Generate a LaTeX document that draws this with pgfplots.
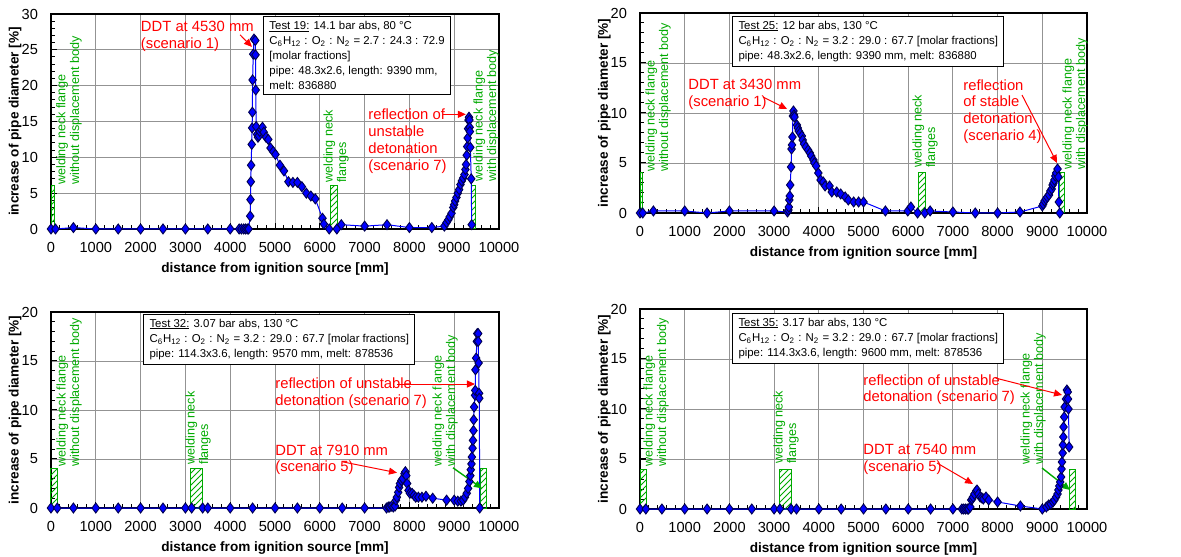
\documentclass[border=0pt]{standalone}
\usepackage{fontspec}
\setmainfont{Liberation Sans}
\usepackage{pgfplots}
\pgfplotsset{compat=1.18}
\usetikzlibrary{patterns,arrows.meta}
\definecolor{grn}{RGB}{0,170,0}
\definecolor{navy}{RGB}{0,0,80}
\newcommand{\ticksize}{\fontsize{7.3}{8}\selectfont}
\newcommand{\labsize}{\fontsize{6.8}{8}\selectfont\bfseries}
\newcommand{\boxfont}{\fontsize{5.7}{7.4}\selectfont}
\newcommand{\redfont}{\fontsize{7.4}{8.4}\selectfont}
\newcommand{\grnfont}{\fontsize{6.3}{6.8}\selectfont}
\newcommand{\ul}[1]{\setbox0\hbox{#1}\rlap{\rule[-0.7pt]{\wd0}{0.35pt}}#1}
\tikzset{
  grntext/.style={grn, font=\grnfont, rotate=90, align=left, anchor=north west, inner sep=0pt},
  redtext/.style={red, font=\redfont, align=left, anchor=north west, inner sep=0pt},
  redarrow/.style={red, line width=0.5pt, -{Triangle[length=4pt,width=3.5pt]}},
  infobox/.style={draw=black, fill=white, line width=0.5pt, align=left, anchor=north west,
    font=\boxfont, inner xsep=3pt, inner ysep=2.5pt},
}
\pgfplotsset{
  panel/.style={
    scale only axis, anchor=south west, clip=false,
    xmin=0, xmax=10000, ymin=0,
    xtick={0,1000,...,10000}, minor x tick num=4, minor y tick num=4,
    grid=major, major grid style={gray!85, line width=0.45pt},
    tick pos=left, tick align=inside, major tick length=3pt, minor tick length=2pt,
    axis line style={line width=0.7pt},
    every tick/.style={black, line width=0.5pt},
    ticklabel style={font=\ticksize},
    scaled x ticks=false,
    /pgf/number format/1000 sep={},
    /pgf/number format/assume math mode=true,
    xlabel={distance from ignition source [mm]},
    ylabel={increase of pipe diameter [\%]},
    every axis x label/.style={at={(axis description cs:0.5,0)}, anchor=center, yshift=-20pt, font=\labsize},
    every axis y label/.style={at={(axis description cs:-0.08,0.5)}, anchor=center, rotate=90, font=\labsize},
    xticklabel style={yshift=-3pt}, yticklabel style={xshift=-3pt},
  },
  dat/.style={blue, line width=0.5pt, mark=diamond*, mark size=2.5pt,
    mark options={fill=blue, draw=navy, line width=0.45pt, solid}},
  flange/.style={draw=grn, line width=0.5pt, pattern=north east lines, pattern color=grn},
}
\begin{document}
\begin{tikzpicture}
\path[use as bounding box] (0,0) rectangle (590.5pt,278pt);

% ---------------- Test 19 (top left)
\begin{axis}[panel, at={(25.5pt,163.5pt)}, width=224pt, height=107.5pt, ymax=30, ytick={0,5,...,30}]
\addplot[flange] coordinates {(15,0) (15,6) (67,6) (67,0)} \closedcycle;
\addplot[flange] coordinates {(6230,0) (6230,6) (6390,6) (6390,0)} \closedcycle;
\addplot[flange] coordinates {(9385,0) (9385,6) (9480,6) (9480,0)} \closedcycle;
\addplot[dat] coordinates {
(0,0) (100,0) (500,0.2) (1000,0) (1500,0) (2000,0) (2500,0) (3000,0) (3500,0) (4000,0)
(4200,0) (4250,0) (4300,0) (4340,0) (4380,0) (4410,0)
(4447,1.8) (4453,4.1) (4460,6.6) (4467,8.9) (4480,11.8) (4490,14.1) (4495,16.3) (4500,20.8)
(4515,24.4) (4530,26.5) (4560,26.3) (4565,24.3) (4570,19.4) (4580,14.3) (4600,13.2)
(4620,12.8) (4640,13.0) (4660,13.6) (4690,13.9) (4720,14.2) (4750,13.5) (4800,12.8)
(4850,12.5) (4900,11.3) (4960,10.8) (5010,10.4) (5110,8.9) (5200,8.1) (5300,6.6)
(5400,6.5) (5500,6.5) (5600,5.9) (5700,5.0) (5800,4.6) (5900,4.2) (6060,1.5) (6090,0.7)
(6210,0) (6380,0) (6480,0.6) (7000,0.4) (7500,0.6) (8000,0.2) (8500,0.2)
(8780,0.4) (8830,0.9) (8870,1.3) (8900,1.7) (8940,2.2) (8980,3.0) (9000,3.4) (9020,3.9)
(9050,4.4) (9080,5.0) (9110,5.5) (9140,6.2) (9170,6.7) (9200,7.1) (9230,7.6) (9250,8.3)
(9265,9.0) (9280,10.3) (9290,11.5) (9300,12.7) (9310,14.0) (9320,15.2) (9330,15.6)
(9340,15.2) (9345,14.2) (9350,13.6) (9360,11.4) (9380,7.0) (9390,0.6)
};
\node[grntext] at (axis cs:110,6.1) {welding neck flange\\without displacement body};
\node[grntext] at (axis cs:6071,6.4) {welding neck\\flanges};
\node[grntext] at (axis cs:9420,6.6) {welding neck flange\\with displacement body};
\node[redtext] at (axis cs:2000,29.0) {DDT at 4530 mm\\(scenario 1)};
\draw[redarrow] (axis cs:4219,27.1) -- (axis cs:4487,25.4);
\node[redtext] at (axis cs:7076,16.8) {reflection of\\unstable\\detonation\\(scenario 7)};
\draw[redarrow] (axis cs:8760,16.0) -- (axis cs:9260,16.0);
\node[infobox] at (axis cs:4732,29.7) {\ul{Test 19:} 14.1 bar abs, 80 °C\\
C\textsubscript{6}H\textsubscript{12} : O\textsubscript{2} : N\textsubscript{2} = 2.7 : 24.3 : 72.9\\
{[}molar fractions{]}\\
pipe: 48.3x2.6, length: 9390 mm,\\
melt: 836880};
\end{axis}

% ---------------- Test 25 (top right)
\begin{axis}[panel, at={(320pt,171.5pt)}, width=223.5pt, height=100pt, ymax=20, ytick={0,5,...,20}]
\addplot[flange] coordinates {(0,0) (0,4) (60,4) (60,0)} \closedcycle;
\addplot[flange] coordinates {(6231,0) (6231,4) (6380,4) (6380,0)} \closedcycle;
\addplot[flange] coordinates {(9388,0) (9388,4) (9493,4) (9493,0)} \closedcycle;
\addplot[dat] coordinates {
(0,0) (60,0) (300,0.2) (1000,0.2) (1500,0) (2000,0.2) (3000,0.2) (3300,0.1) (3320,0.3)
(3330,0.6) (3340,1.3) (3350,1.7) (3360,2.8) (3380,4.6) (3390,6.4) (3400,6.8) (3410,7.6)
(3420,9.7) (3433,10.2) (3445,9.8) (3455,9.6) (3510,8.8) (3530,8.5) (3550,8.2) (3580,8.0)
(3620,7.7) (3640,7.3) (3670,6.9) (3710,6.6) (3760,6.3) (3800,6.0) (3830,5.7) (3880,5.3)
(3900,5.0) (3940,4.7) (3990,4.0) (4040,3.3) (4100,3.1) (4140,2.7) (4240,2.7) (4290,2.1)
(4400,2.1) (4490,1.9) (4590,1.6) (4660,1.3) (4780,1.1) (4890,1.1) (5000,1.1) (5490,0.2)
(5990,0.2) (6060,0.6) (6210,0) (6370,0) (6490,0.2) (7000,0.1) (7500,0) (8000,0) (8500,0.1)
(9000,0.7) (9020,0.9) (9050,1.2) (9080,1.4) (9110,1.6) (9150,1.8) (9180,2.2) (9210,2.4)
(9230,2.8) (9250,3.0) (9270,3.3) (9290,3.7) (9310,4.0) (9340,4.4) (9360,3.6) (9370,1.1)
(9390,0)
};
\node[grntext] at (axis cs:112,4.1) {welding neck flange\\without displacement body};
\node[grntext] at (axis cs:6085,4.5) {welding neck\\flanges};
\node[grntext] at (axis cs:9441,4.3) {welding neck flange\\with displacement body};
\node[redtext] at (axis cs:1074,13.4) {DDT at 3430 mm\\(scenario 1)};
\draw[redarrow] (axis cs:2752,11.6) -- (axis cs:3290,10.4);
\node[redtext] at (axis cs:7226,13.4) {reflection\\of stable\\detonation\\(scenario 4)};
\draw[redarrow] (axis cs:8546,11.8) -- (axis cs:9329,5.0);
\node[infobox] at (axis cs:2058,19.7) {\ul{Test 25:} 12 bar abs, 130 °C\\
C\textsubscript{6}H\textsubscript{12} : O\textsubscript{2} : N\textsubscript{2} = 3.2 : 29.0 : 67.7 [molar fractions]\\
pipe: 48.3x2.6, length: 9390 mm, melt: 836880};
\end{axis}

% ---------------- Test 32 (bottom left)
\begin{axis}[panel, at={(25.5pt,24pt)}, width=224pt, height=98pt, ymax=20, ytick={0,5,...,20}]
\addplot[flange] coordinates {(0,0) (0,4) (140,4) (140,0)} \closedcycle;
\addplot[flange] coordinates {(3118,0) (3118,4) (3385,4) (3385,0)} \closedcycle;
\addplot[flange] coordinates {(9576,0) (9576,4) (9710,4) (9710,0)} \closedcycle;
\addplot[dat] coordinates {
(0,0) (140,0) (500,0) (1000,0) (1500,0) (2000,0) (2500,0) (3000,0) (3140,0) (3385,0)
(3500,0) (4000,0) (4500,0) (5000,0) (5500,0) (6000,0) (6500,0) (7000,0) (7490,0)
(7530,0.1) (7560,0.1) (7600,0.2) (7640,0.1) (7680,0.2) (7700,0.8) (7720,1.1) (7750,1.6)
(7770,2.1) (7790,2.5) (7820,2.8) (7850,3.0) (7890,3.5) (7910,3.7) (7930,3.3) (7950,2.5)
(7980,1.8) (8010,1.5) (8060,1.5) (8100,1.3) (8140,1.1) (8200,1.1) (8280,1.1) (8370,1.2)
(8520,1.0) (8830,0.8) (9000,0.8) (9080,0.7) (9150,0.7) (9200,0.8) (9240,1.1) (9280,1.5)
(9310,2.0) (9340,2.7) (9360,3.3) (9370,3.9) (9385,4.5) (9395,5.2) (9410,6.1) (9420,6.9)
(9430,7.9) (9435,9.0) (9445,10.3) (9465,11.5) (9470,12.0) (9475,14.1) (9490,15.3)
(9505,17.0) (9515,17.8) (9535,17.8) (9535,17.0) (9545,14.8) (9555,11.7) (9560,11.2)
(9570,0)
};
\node[grntext] at (axis cs:112,4.2) {welding neck flange\\without displacement body};
\node[grntext] at (axis cs:2991,4.4) {welding neck\\flanges};
\node[grntext] at (axis cs:8504,4.2) {welding neck flange\\with displacement body};
\draw[grn, line width=0.7pt, -{Triangle[length=4pt,width=3.5pt]}] (axis cs:8973,4.1) -- (axis cs:9621,2.0);
\node[redtext] at (axis cs:5000,13.3) {reflection of unstable\\detonation (scenario 7)};
\draw[redarrow] (axis cs:7723,12.65) -- (axis cs:9464,12.65);
\node[redtext] at (axis cs:5000,6.5) {DDT at 7910 mm\\(scenario 5)};
\draw[redarrow] (axis cs:6518,4.7) -- (axis cs:7723,3.6);
\node[infobox] at (axis cs:2054,19.8) {\ul{Test 32:} 3.07 bar abs, 130 °C\\
C\textsubscript{6}H\textsubscript{12} : O\textsubscript{2} : N\textsubscript{2} = 3.2 : 29.0 : 67.7 [molar fractions]\\
pipe: 114.3x3.6, length: 9570 mm, melt: 878536};
\end{axis}

% ---------------- Test 35 (bottom right)
\begin{axis}[panel, at={(320pt,23.5pt)}, width=223.5pt, height=100pt, ymax=20, ytick={0,5,...,20}]
\addplot[flange] coordinates {(0,0) (0,4) (134,4) (134,0)} \closedcycle;
\addplot[flange] coordinates {(3119,0) (3119,4) (3396,4) (3396,0)} \closedcycle;
\addplot[flange] coordinates {(9604,0) (9604,4) (9739,4) (9739,0)} \closedcycle;
\addplot[dat] coordinates {
(0,0) (130,0) (490,0) (1000,0) (1500,0) (2000,0) (2500,0) (3000,0) (3130,0) (3380,0)
(3500,0) (4000,0) (4500,0) (5000,0) (5500,0) (6000,0) (6500,0) (7000,0) (7200,0)
(7240,0) (7280,0) (7320,0) (7350,0) (7390,0.2) (7410,0.9) (7430,1.0) (7450,1.2)
(7480,1.5) (7520,1.8) (7540,1.9) (7570,1.5) (7610,1.2) (7650,1.1) (7680,1.0) (7740,1.2)
(7800,0.9) (8000,0.7) (8510,0.3) (9000,0) (9090,0.2) (9140,0.4) (9190,0.5) (9240,0.7)
(9270,0.9) (9310,1.2) (9340,1.5) (9360,1.9) (9380,2.3) (9400,2.7) (9420,3.2) (9430,4.0)
(9440,4.7) (9455,5.6) (9460,6.4) (9470,7.2) (9475,8.2) (9490,9.2) (9500,10.2) (9530,11.0)
(9550,11.9) (9570,11.7) (9575,11.0) (9585,10.0) (9600,6.2)
};
\node[grntext] at (axis cs:67,4.2) {welding neck flange\\without displacement body};
\node[grntext] at (axis cs:2975,4.5) {welding neck\\flanges};
\node[grntext] at (axis cs:8501,4.4) {welding neck flange\\with displacement body};
\draw[grn, line width=0.7pt, -{Triangle[length=4pt,width=3.5pt]}] (axis cs:8993,4.1) -- (axis cs:9620,1.9);
\node[redtext] at (axis cs:4989,13.5) {reflection of unstable\\detonation (scenario 7)};
\draw[redarrow] (axis cs:7950,13.1) -- (axis cs:9441,11.4);
\node[redtext] at (axis cs:4989,6.5) {DDT at 7540 mm\\(scenario 5)};
\draw[redarrow] (axis cs:6644,4.6) -- (axis cs:7450,2.5);
\node[infobox] at (axis cs:2058,19.6) {\ul{Test 35:} 3.17 bar abs, 130 °C\\
C\textsubscript{6}H\textsubscript{12} : O\textsubscript{2} : N\textsubscript{2} = 3.2 : 29.0 : 67.7 [molar fractions]\\
pipe: 114.3x3.6, length: 9600 mm, melt: 878536};
\end{axis}
\end{tikzpicture}
\end{document}
